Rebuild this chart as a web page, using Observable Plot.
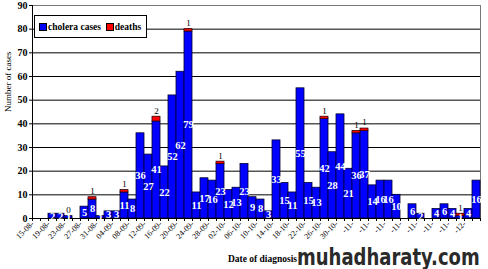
<!DOCTYPE html>
<html>
<head>
<meta charset="utf-8">
<script src="https://cdn.jsdelivr.net/npm/d3@7"></script>
<script src="https://cdn.jsdelivr.net/npm/@observablehq/plot@0.6"></script>
<style>
  body { margin: 0; background: #fff; }
  #wrap { position: relative; width: 488px; height: 269px; overflow: hidden; background: #fff; }
  #legend { position: absolute; left: 34px; top: 15px; width: 107px; height: 21px; border: 1px solid #000; background: #fff;
    font: bold 9.5px "Liberation Serif", serif; display: flex; align-items: center; padding-left: 4px; box-sizing: content-box; }
  .sw { display: inline-block; width: 6px; height: 6px; border: 0.5px solid #000; margin-right: 1px; }
  #wm { position: absolute; left: 297px; top: 244px; font: bold 18px "DejaVu Sans", sans-serif; color: #2a2a2a; white-space: nowrap;
    transform: scaleY(1.25); transform-origin: left top; }
</style>
</head>
<body>
<div id="wrap">
  <div id="chart"></div>
  <div id="legend"><span class="sw" style="background:#0000ff"></span>cholera cases&nbsp;&nbsp;<span class="sw" style="background:#ff0000"></span>deaths</div>
  <div id="wm">muhadharaty.com</div>
</div>
<script>
// 2-day bins starting 15-08
const cases = [0,0,2,2,1,0,5,8,1,3,
               3,11,8,36,27,41,22,52,62,79,
               11,17,16,23,12,13,23,9,8,3,
               33,15,11,55,15,13,42,28,44,21,
               36,37,14,16,16,10,0,6,2,0,
               4,6,4,1,4,16];
// deaths (null = no label shown)
const deaths = [null,null,null,null,0,null,null,1,null,null,
                null,1,null,null,null,2,null,null,null,1,
                null,null,null,1,null,null,null,null,null,null,
                null,null,null,null,null,null,1,null,null,null,
                1,1,null,null,null,null,null,null,null,null,
                null,null,null,1,null,null];
const xLabels = ["15-08-","19-08-","23-08-","27-08-","31-08-","04-09-","08-09-","12-09-","16-09-","20-09-",
                 "24-09-","28-09-","02-10-","06-10-","10-10-","14-10-","18-10-","22-10-","26-10-","30-10-",
                 "-11-","-11-","-11-","-11-","-11-","-11-","-11-","-12-"];
const yTicks = [0,10,20,30,40,50,60,70,80,90];

const idx = d3.range(cases.length);
const dIdx = idx.filter(i => deaths[i] != null);

const chart = Plot.plot({
  width: 488, height: 269,
  marginLeft: 32, marginRight: 8, marginTop: 5, marginBottom: 51,
  style: { fontFamily: "Liberation Serif, serif", background: "transparent", color: "#000" },
  x: { domain: [0, cases.length], axis: null },
  y: { domain: [0, 90], axis: null },
  marks: [
    Plot.ruleY(yTicks.filter(t => t > 0 && t < 90), { stroke: "#000", strokeWidth: 1 }),
    Plot.frame({ stroke: "#777", strokeWidth: 1 }),
    Plot.rect(idx, { x1: i => i, x2: i => i + 1, y1: 0, y2: i => cases[i], fill: "#0000ff", stroke: "#000033", strokeWidth: 0.8 }),
    Plot.rect(dIdx.filter(i => deaths[i] > 0), { x1: i => i, x2: i => i + 1, y1: i => cases[i], y2: i => cases[i] + deaths[i], fill: "#ff0000", stroke: "#330000", strokeWidth: 0.8 }),
    Plot.axisX({ ticks: d3.range(0, cases.length + 1), tickFormat: i => (i % 2 === 0 && xLabels[i / 2]) ? xLabels[i / 2] : "", tickRotate: -45, tickSize: 3, tickPadding: 1, fontSize: 8, label: null }),
    Plot.axisY({ ticks: yTicks, tickSize: 3, tickPadding: 2, fontSize: 10, fontWeight: "bold", label: null }),
    Plot.ruleY([0], { stroke: "#000" }),
    Plot.ruleX([0], { stroke: "#000" }),
    Plot.text(idx.filter(i => cases[i] > 0), { x: i => i + 0.5, y: i => cases[i] / 2, text: i => String(cases[i]), fill: "white", fontWeight: "bold", fontSize: 10.5 }),
    Plot.text(dIdx, { x: i => i + 0.5, y: i => cases[i] + deaths[i], text: i => String(deaths[i]), dy: -6, fontSize: 9, fill: "#000" }),
    Plot.text(["Date of diagnosis"], { frameAnchor: "bottom", dx: 6, dy: 43, fontWeight: "bold", fontSize: 9.5, fill: "#000" }),
    Plot.text(["Number of cases"], { frameAnchor: "left", rotate: -90, dx: -24, fontSize: 9, fill: "#000" })
  ]
});
document.getElementById("chart").appendChild(chart);
</script>
</body>
</html>
